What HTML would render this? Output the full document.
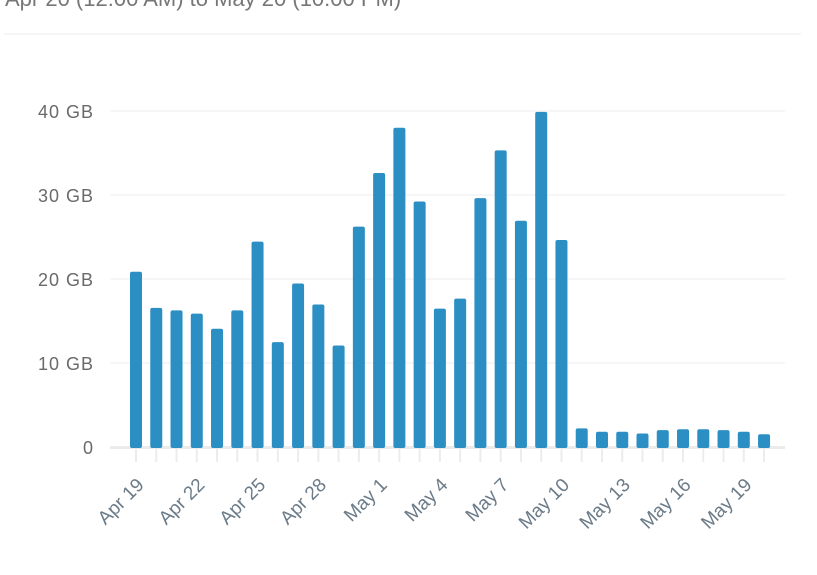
<!DOCTYPE html><html><head><style>body{margin:0;background:#fff;width:817px;height:570px;overflow:hidden}</style></head><body>
<svg width="817" height="570" xmlns="http://www.w3.org/2000/svg" font-family="Liberation Sans, sans-serif">
<text x="5" y="6" font-size="22" fill="#777">Apr 20 (12:00 AM) to May 20 (10:00 PM)</text>
<rect x="4" y="33" width="797" height="2" fill="#f5f5f5"/>
<g fill="#f6f6f6"><rect x="110" y="110" width="675" height="2"/><rect x="110" y="194" width="675" height="2"/><rect x="110" y="278" width="675" height="2"/><rect x="110" y="362" width="675" height="2"/></g>
<g font-size="18" fill="#6a6a6a" text-anchor="end"><text x="93" y="118" textLength="55">40 GB</text><text x="93" y="202" textLength="55">30 GB</text><text x="93" y="286" textLength="55">20 GB</text><text x="93" y="370" textLength="55">10 GB</text><text x="93" y="454">0</text></g>
<rect x="110" y="446" width="675" height="3" fill="#ebebeb"/>
<g id="bars"></g>
</svg>
<script>
var v=[20.8,16.5,16.2,15.8,14,16.2,24.4,12.4,19.4,16.9,12,26.2,32.6,38,29.2,16.4,17.6,29.6,35.3,26.9,39.9,24.6,2.1,1.7,1.7,1.5,1.9,2.0,2.0,1.9,1.7,1.4];
var labs={0:"Apr 19",3:"Apr 22",6:"Apr 25",9:"Apr 28",12:"May 1",15:"May 4",18:"May 7",21:"May 10",24:"May 13",27:"May 16",30:"May 19"};
var s="";
for(var i=0;i<32;i++){var x=136+i*20.26,h=v[i]*8.375;
s+='<rect x="'+(x-6)+'" y="'+(446-h)+'" width="12" height="'+(h+2)+'" rx="2" fill="#2b8fc4"/>';
s+='<rect x="'+(x-1)+'" y="449" width="2" height="13" fill="#ececec"/>';
if(labs[i]!==undefined)s+='<text transform="translate('+(x+9)+',486) rotate(-45)" text-anchor="end" font-size="19" fill="#6b7b88">'+labs[i]+'</text>';}
document.getElementById("bars").outerHTML='<g>'+s+'</g>';
</script>
</body></html>
